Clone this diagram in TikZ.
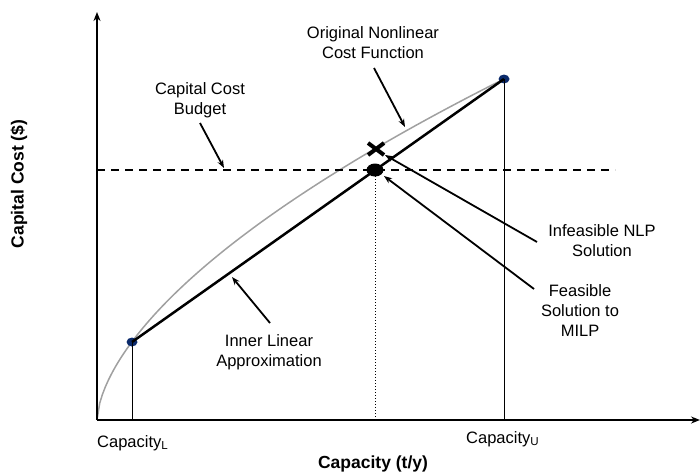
\documentclass[tikz,border=0pt]{standalone}
\usepackage{fontspec}
\setmainfont{Liberation Sans}
\usetikzlibrary{arrows.meta,shapes.geometric,calc}
\definecolor{navy}{HTML}{0B2A6B}
\definecolor{curvegray}{HTML}{A0A0A0}
\tikzset{
  lbl/.style={align=center,font=\fontsize{16.5}{20}\selectfont,inner sep=0pt},
  axlbl/.style={font=\fontsize{17.5}{20}\selectfont\bfseries,inner sep=0pt},
  ptdot/.style={ellipse,fill=navy,minimum width=11pt,minimum height=9pt,inner sep=0pt},
  soldot/.style={ellipse,fill=black,minimum width=17pt,minimum height=13pt,inner sep=0pt},
  callout/.style={line width=1.8pt,-{Stealth[length=8pt,width=6pt]}},
  axis/.style={line width=2pt,-{Stealth[length=9pt,width=7pt]}},
}
\begin{document}
\begin{tikzpicture}[x=1pt,y=-1pt]
\useasboundingbox (0,0) rectangle (700,471);
% axes
\coordinate (O) at (97,420);
\coordinate (ytop) at (97,12);
\coordinate (xend) at (700,420);
% curve
\draw[curvegray,line width=1.5pt] plot[domain=0.001:407,samples=150] ({97+\x},{420-9.27*(\x)^0.6});
% points
\node[ptdot] (pL) at (132,342) {};
\node[ptdot] (pU) at (504,79) {};
\coordinate (pLb) at (132,420);
\coordinate (pUb) at (504,420);
\draw[line width=0.9pt] (pL.center) -- (pLb);
\draw[line width=0.9pt] (pU.center) -- (pUb);
% budget line
\coordinate (bL) at (97,170);
\coordinate (bR) at (615,170);
\draw[line width=1.5pt,dash pattern=on 8pt off 6pt] (bL) -- (bR);
% dotted vertical
\coordinate (fB) at (375,420);
\draw[line width=1pt,dotted] (375,170) -- (fB);
% linear approximation
\draw[line width=2.5pt] (pL.center) -- (pU.center);
% feasible dot
\node[soldot] (feas) at (375,170) {};
% infeasible X
\coordinate (xc) at (376,149);
\draw[line width=4pt] ($(xc)+(-8,-6)$) -- ($(xc)+(8,6)$);
\draw[line width=4pt] ($(xc)+(-8,6)$) -- ($(xc)+(8,-6)$);
% axes on top
\draw[axis] (O) -- (ytop);
\draw[axis] (O) -- (xend);
% labels
\node[lbl] (orig) at (373,43) {Original Nonlinear\\Cost Function};
\node[lbl] (budget) at (200,100) {Capital Cost\\Budget};
\node[lbl] (infeas) at (602,241) {Infeasible NLP\\Solution};
\node[lbl] (feaslbl) at (580,311) {Feasible\\Solution to\\MILP};
\node[lbl] (inner) at (269,352) {Inner Linear\\Approximation};
\node[lbl,anchor=base west] (capL) at (97,447) {Capacity\textsubscript{L}};
\node[lbl,anchor=base west] (capU) at (466,443) {Capacity\textsubscript{U}};
\node[axlbl,anchor=base] (xlab) at (373,468) {Capacity (t/y)};
\node[axlbl,rotate=90] (ylab) at (19,184) {Capital Cost (\$)};
% callouts
\coordinate (origT) at (405,127);
\coordinate (budT) at (224,168);
\coordinate (infT) at (385,155);
\coordinate (feaT) at (384,176);
\coordinate (innT) at (232,277);
\draw[callout] (374,68) -- (origT);
\draw[callout] (200,123) -- (budT);
\draw[callout] (537,242) -- (infT);
\draw[callout] (534,289) -- (feaT);
\draw[callout] (270,323) -- (innT);
\end{tikzpicture}
\end{document}
